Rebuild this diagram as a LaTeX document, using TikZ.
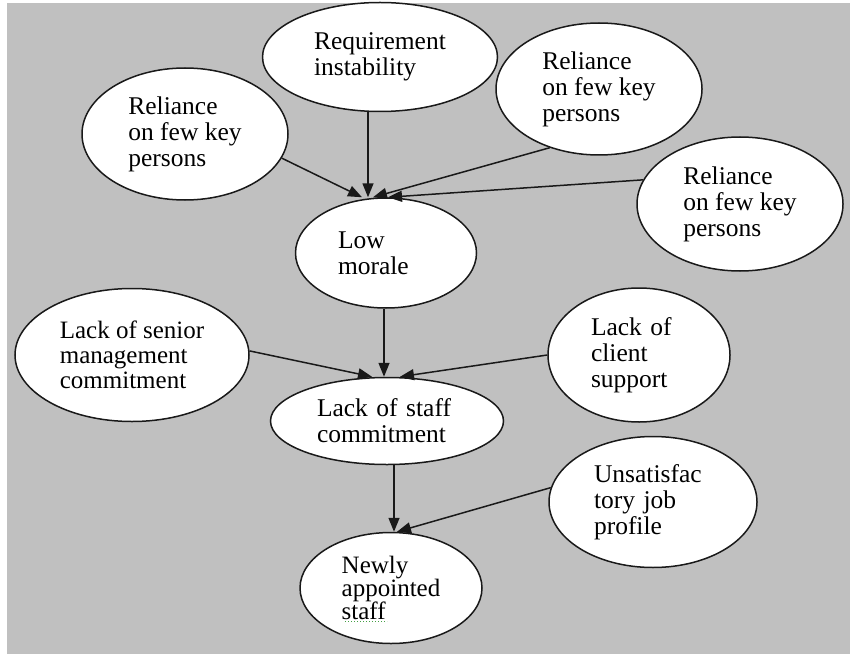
\documentclass[tikz,border=0pt]{standalone}
\usepackage{fontspec}
\setmainfont{Liberation Serif}
\usetikzlibrary{arrows.meta}
\usetikzlibrary{shapes.geometric}
\definecolor{panel}{RGB}{192,192,192}
\definecolor{inkline}{RGB}{25,25,25}
\definecolor{squiggle}{RGB}{70,160,70}
\tikzstyle{factor} = [ellipse, draw=inkline, line width=1.5pt, fill=white, inner sep=0pt, align=left, font=\fontsize{25.5}{26}\selectfont]
\tikzstyle{cause} = [-{Triangle[length=14pt,width=11pt]}, line width=1.5pt, draw=inkline]

\begin{document}
\begin{tikzpicture}[x=1pt,y=-1pt]
		% canvas
		\useasboundingbox (0,0) rectangle (850,655);
		\fill[white] (0,0) rectangle (850,655);
		\fill[panel] (7,3) rectangle (850,654);
		% top row of factors
		\node [factor, minimum width=235pt, minimum height=109pt] (req) at (380,57) {Requirement\\instability};
		\node [factor, minimum width=206pt, minimum height=132pt] (relA) at (185,134) {Reliance\\on few key\\persons};
		\node [factor, minimum width=206pt, minimum height=132pt] (relB) at (599,89) {Reliance\\on few key\\persons};
		\node [factor, minimum width=206pt, minimum height=134pt] (relC) at (740,204) {Reliance\\on few key\\persons};
		\node [factor, minimum width=181pt, minimum height=110pt, text width=96pt] (morale) at (386,253) {Low\\morale};
		% middle row
		\node [factor, minimum width=234pt, minimum height=133pt, font=\fontsize{25}{25}\selectfont] (senior) at (132,355) {Lack of senior\\management\\commitment};
		\node [factor, minimum width=233pt, minimum height=87pt, text width=140pt] (staff) at (387,421) {Lack of staff\\commitment};
		\node [factor, minimum width=182pt, minimum height=134pt, text width=96pt] (client) at (639,355) {Lack of\\client\\support};
		% bottom row
		\node [factor, minimum width=208pt, minimum height=131pt, text width=118pt] (unsat) at (653,502) {Unsatisfac\\tory job\\profile};
		\node [factor, minimum width=182pt, minimum height=111pt, font=\fontsize{25}{23}\selectfont] (newly) at (391,588) {Newly\\appointed\\staff};
		\draw [squiggle, dotted, line width=1pt] (345,621) -- (387,621);
		% causes of low morale
		\draw [cause] ([xshift=-12pt]req.south) -- ([xshift=-18pt]morale.north);
		\draw [cause] (relA.-14) -- ([xshift=-24pt]morale.north);
		\draw [cause] (relB.-130) -- ([xshift=-13pt]morale.north);
		\draw [cause] (relC.166) -- ([xshift=2pt]morale.north);
		% causes of lack of staff commitment
		\draw [cause] ([xshift=-2pt]morale.south) -- ([xshift=-3pt]staff.north);
		\draw [cause] (senior.2) -- ([xshift=-15pt]staff.north);
		\draw [cause] (client.west) -- ([xshift=13pt]staff.north);
		% causes of newly appointed staff
		\draw [cause] ([xshift=7pt]staff.south) -- ([xshift=3pt]newly.north);
		\draw [cause] (unsat.172) -- ([xshift=6pt]newly.north);
	\end{tikzpicture}
\end{document}
